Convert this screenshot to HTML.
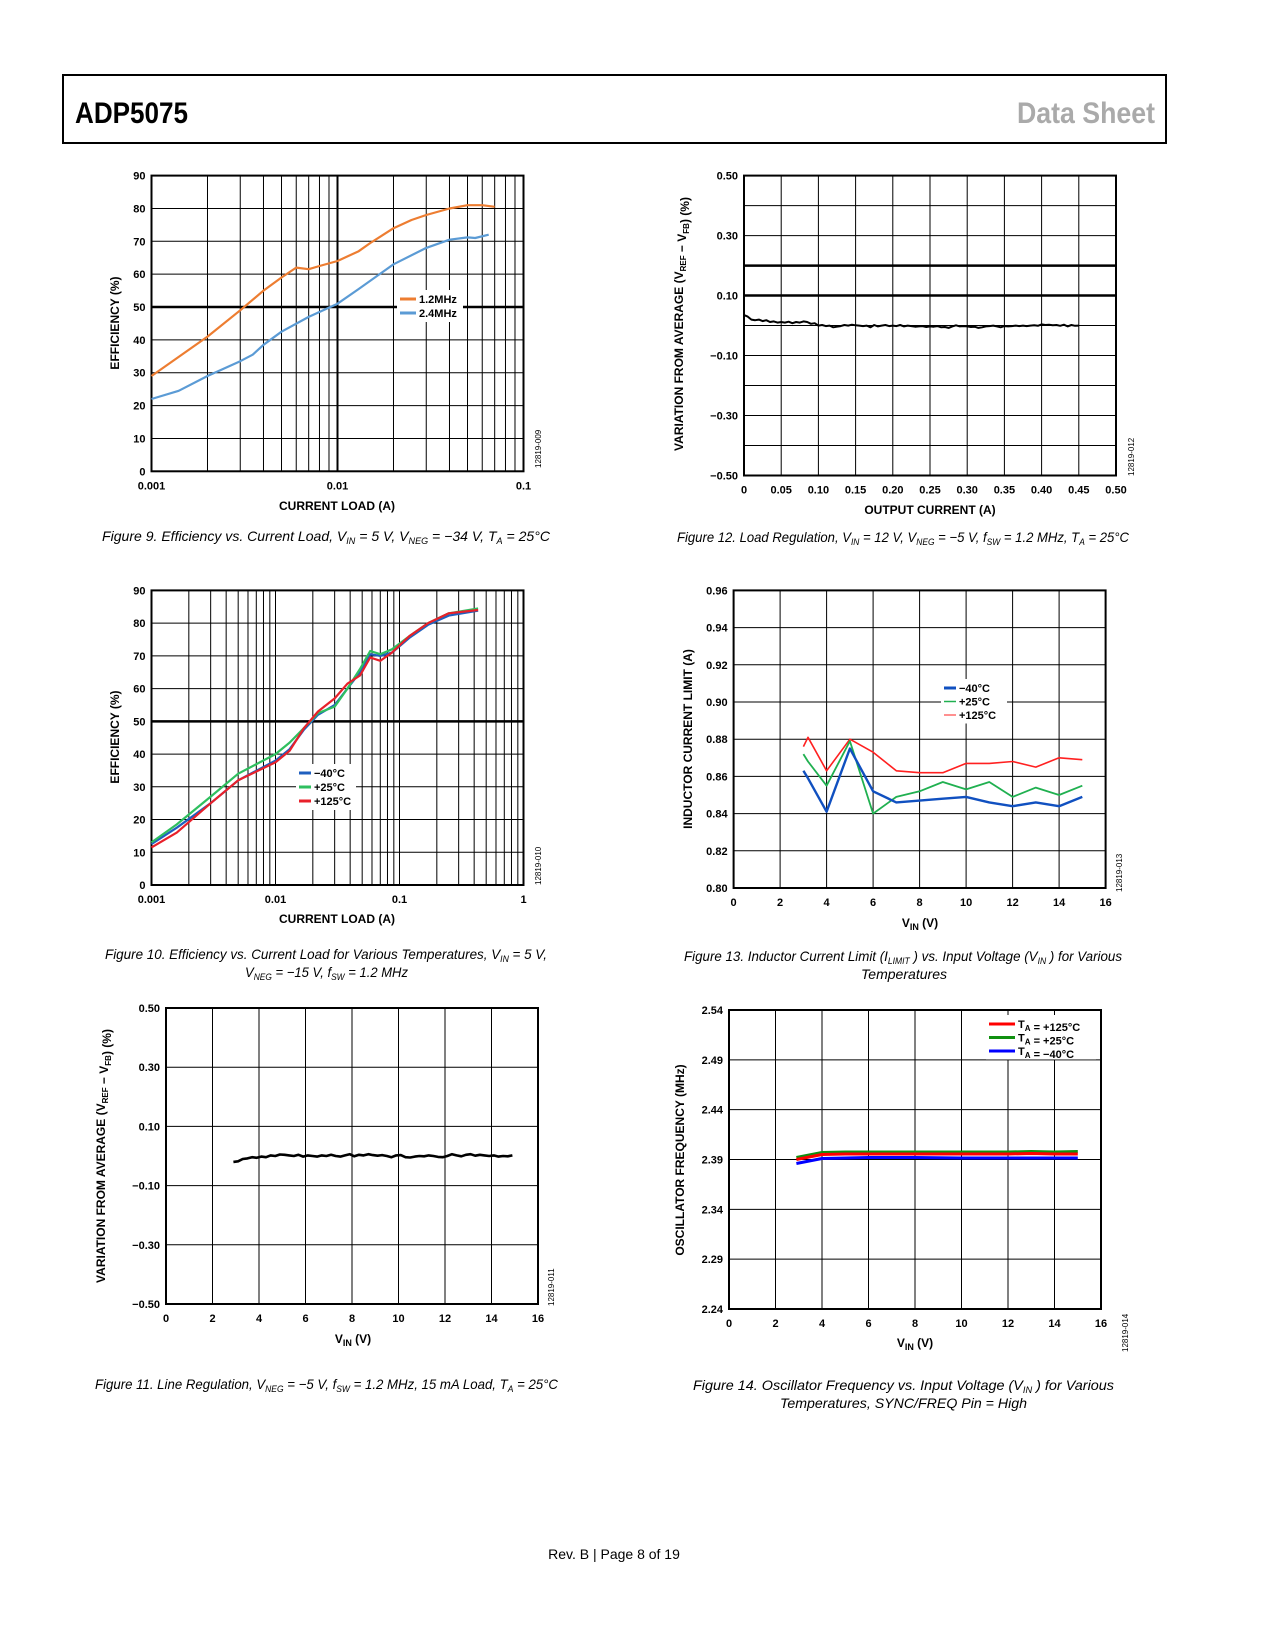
<!DOCTYPE html>
<html><head><meta charset="utf-8"><style>
html,body{margin:0;padding:0;background:#fff}
svg{display:block;font-family:"Liberation Sans",sans-serif}
.tk{font-size:11px;font-weight:bold}
.ax{font-size:12px;font-weight:bold}
.cap{font-size:14px;font-style:italic}
</style></head><body>
<svg id="pg" width="1275" height="1650" viewBox="0 0 1275 1650" xmlns="http://www.w3.org/2000/svg">
<rect x="63" y="75" width="1103" height="68" fill="none" stroke="#000" stroke-width="2"/>
<text x="75" y="123" font-size="30" font-weight="bold" textLength="113" lengthAdjust="spacingAndGlyphs">ADP5075</text>
<text x="1017" y="123" font-size="30" font-weight="bold" fill="#aaa" textLength="138" lengthAdjust="spacingAndGlyphs">Data Sheet</text>
<text x="614" y="1559" font-size="14" text-anchor="middle">Rev. B | Page 8 of 19</text>
</svg>
<script>
// ---- Figure 9 data
const f9X12=[0.001,0.002,0.003,0.004,0.005,0.006,0.007,0.008,0.01,0.013,0.015,0.02,0.025,0.03,0.04,0.05,0.06,0.07];
const f9Y12=[29,41,49,55,59,62,61.5,62.5,64,67,69.5,74,76.5,78,80,81,81,80.5];
const f9X24=[0.001,0.0014,0.002,0.003,0.0035,0.004,0.005,0.007,0.01,0.013,0.02,0.03,0.04,0.05,0.055,0.065];
const f9Y24=[22,24.5,29,33.5,35.5,38.5,42.5,47,51,55.5,63,68,70.5,71.2,71,72];
// ---- Figure 10 data
const f10X=[0.001,0.0016,0.003,0.005,0.01,0.013,0.017,0.022,0.03,0.038,0.048,0.058,0.07,0.087,0.12,0.17,0.25,0.43];
const f10Blue=[12.5,17.5,25,32,38,41.5,47.5,52,55,60,65,70.5,70,71,75.5,79.5,82.3,83.8];
const f10Green=[13,18.5,27,34,40,43.5,48,52.5,54.5,60,66,71.5,70.5,72,76,80,83,84.5];
const f10Red=[11.5,16,25,32,37.5,41,48,53,57,61.5,64,69.5,68.5,71,76,80,83,84];
// ---- Figure 12 data (x step 0.005 from 0 to 0.45)
const f12Y=[0.035,0.03,0.02,0.018,0.02,0.015,0.018,0.012,0.014,0.01,0.012,0.01,0.013,0.008,0.012,0.01,0.014,0.012,0.006,0.008,0.0,0.002,-0.002,0.0,-0.006,-0.004,-0.002,0.002,0.0,0.003,0.001,0.0,-0.002,0.0,-0.006,0.002,-0.003,0.0,0.002,-0.002,0.0,-0.002,0.002,-0.003,0.0,-0.002,-0.004,-0.003,-0.002,-0.005,-0.003,-0.004,-0.002,-0.006,-0.005,-0.008,-0.003,0.001,-0.003,-0.002,-0.003,-0.005,-0.004,-0.008,-0.006,-0.003,-0.002,0.0,-0.003,-0.006,-0.002,-0.003,-0.002,0.0,-0.002,0.0,-0.002,0.0,0.001,-0.001,0.004,0.002,0.003,0.001,0.002,-0.001,0.003,-0.003,0.002,-0.001,0.0];
// ---- Figure 11 data (x from 2.9 to 15, step 0.2)
const f11Y=[-0.02,-0.018,-0.01,-0.008,-0.004,-0.006,-0.002,-0.004,0.002,0.0,0.005,0.004,0.002,0.0,0.004,-0.002,0.002,0.0,-0.002,0.002,0.0,0.004,0.0,-0.002,0.002,0.006,-0.001,0.004,0.002,0.006,0.003,0.001,0.003,0.0,-0.004,0.002,0.003,-0.004,-0.005,-0.002,0.0,-0.001,0.002,0.0,-0.003,-0.004,0.0,0.006,0.002,-0.001,0.004,0.006,0.001,0.004,0.002,0.0,0.002,-0.002,0.0,-0.001,0.002];
// ---- Figure 13 data
const f13X=[3,3.2,4,5,6,7,8,9,10,11,12,13,14,15];
const f13Red=[0.876,0.881,0.863,0.880,0.873,0.863,0.862,0.862,0.867,0.867,0.868,0.865,0.870,0.869];
const f13Green=[0.872,0.868,0.855,0.879,0.840,0.849,0.852,0.857,0.853,0.857,0.849,0.854,0.850,0.855];
const f13Blue=[0.863,0.859,0.841,0.875,0.852,0.846,0.847,0.848,0.849,0.846,0.844,0.846,0.844,0.849];
// ---- Figure 14 data
const f14X=[2.9,4,5,6,8,10,12,13,14,15];
const f14Red=[2.390,2.3950,2.3955,2.3955,2.3955,2.3955,2.3955,2.396,2.3955,2.3955];
const f14Green=[2.392,2.3970,2.3975,2.3975,2.3975,2.3975,2.3975,2.398,2.3975,2.398];
const f14Blue=[2.386,2.3910,2.3915,2.392,2.392,2.3915,2.3915,2.3915,2.3915,2.3915];

const NS="http://www.w3.org/2000/svg";
const pg=document.getElementById('pg');
function mk(tag,attrs,parent,txt){const e=document.createElementNS(NS,tag);for(const k in attrs)e.setAttribute(k,attrs[k]);if(txt!==undefined)e.textContent=txt;(parent||pg).appendChild(e);return e;}

function chart(o){
  const g=mk('g',{},pg);
  
  
  const L=o.L,T=o.T,R=o.R,B=o.B;
  const xs=o.log?(v=>L+(Math.log10(v)-Math.log10(o.x0))/(Math.log10(o.x1)-Math.log10(o.x0))*(R-L)):(v=>L+(v-o.x0)/(o.x1-o.x0)*(R-L));
  const ys=v=>B-(v-o.y0)/(o.y1-o.y0)*(B-T);
  // vertical grid
  o.vgrid.forEach(v=>{const l=mk('line',{x1:xs(v),x2:xs(v),y1:T,y2:B,stroke:'#000','stroke-width':(o.vbold||[]).includes(v)?2:1},g);
    
    });
  o.hgrid.forEach(v=>{const l=mk('line',{x1:L,x2:R,y1:ys(v),y2:ys(v),stroke:'#000','stroke-width':(o.hbold||[]).some(b=>Math.abs(b-v)<1e-9)?2.5:1},g);
    
    });
  const fr=mk('rect',{x:L,y:T,width:R-L,height:B-T,fill:'none',stroke:'#000','stroke-width':2},g);
  
  
  o.xt.forEach((v,i)=>{const t=mk('text',{x:xs(v),y:B+18,'text-anchor':'middle',class:'tk'},g,o.xtl[i]);
    
    });
  o.yt.forEach((v,i)=>{const t=mk('text',{x:L-6,y:ys(v)+4,'text-anchor':'end',class:'tk'},g,o.ytl[i]);
    
    });
  o.series.forEach(s=>{
    const pts=s.x.map((x,i)=>xs(x).toFixed(1)+','+ys(s.y[i]).toFixed(1)).join(' ');
    const p=mk('polyline',{points:pts,fill:'none',stroke:s.c,'stroke-width':s.w||2.2,'stroke-linejoin':'round'},g);
    
    
  });
  // axis titles
  const xt=mk('text',{x:o.xtx,y:o.xty,'text-anchor':'middle',class:'ax'},g);
  xt.innerHTML=o.xtitle;
  
  
  const yt=mk('text',{x:0,y:0,'text-anchor':'middle',class:'ax',transform:`translate(${o.ytx},${o.yty}) rotate(-90)`},g);
  yt.innerHTML=o.ytitle;
  
  
  const id=mk('text',{x:0,y:0,'font-size':8,transform:`translate(${o.idx},${o.idy}) rotate(-90)`},g,o.id);
  
  
  if(o.legend){
    const lg=mk('g',{},g);
    
    
    mk('rect',{x:o.legend.x-3,y:o.legend.y-9,width:o.legend.w,height:o.legend.dy*o.legend.items.length+4,fill:'#fff'},lg);
    o.legend.items.forEach((it,i)=>{const y=o.legend.y+i*o.legend.dy;
      const e=mk('line',{x1:o.legend.x,x2:o.legend.x+o.legend.sw,y1:y,y2:y,stroke:it[0],'stroke-width':it[2]||3},lg);
      
      
      const t=mk('text',{x:o.legend.x+o.legend.sw+3,y:y+4,class:'tk'},lg);
      t.innerHTML=it[1];
      
      });
  }
}
function logGrid(a,b){const r=[];for(let d=a;d<b;d*=10)for(let k=1;k<10;k++)r.push(+(d*k).toPrecision(3));r.push(b);return r;}
function rng(a,b,s){const r=[];for(let v=a;v<=b+1e-9;v+=s)r.push(+v.toFixed(4));return r;}
function cap(x,y,w,html,name){const t=mk('text',{x:x,y:y,class:'cap',textLength:w,lengthAdjust:'spacingAndGlyphs'});t.innerHTML=html;
  
  }
const sub=s=>`<tspan font-size="8" dy="3">${s}</tspan><tspan dy="-3"></tspan>`;
const isub=s=>`<tspan font-size="9" dy="3">${s}</tspan><tspan dy="-3"> </tspan>`;

chart({name:'figure-9-chart',L:151.5,T:175.6,R:523.5,B:471.3,log:true,x0:0.001,x1:0.1,y0:0,y1:90,
 vgrid:logGrid(0.001,0.1),vbold:[0.01],hgrid:rng(0,90,10),hbold:[50],
 xt:[0.001,0.01,0.1],xtl:['0.001','0.01','0.1'],yt:rng(0,90,10),ytl:rng(0,90,10).map(String),
 series:[{x:f9X12,y:f9Y12,c:'#ed7d31',n:'series-1.2mhz'},{x:f9X24,y:f9Y24,c:'#5b9bd5',n:'series-2.4mhz'}],
 xtitle:'CURRENT LOAD (A)',xtx:337,xty:510,ytitle:'EFFICIENCY (%)',ytx:119,yty:323,id:'12819-009',idx:541,idy:468,
 legend:{x:400,y:299,dy:14,w:66,sw:16,items:[['#ed7d31','1.2MHz'],['#5b9bd5','2.4MHz']]}});

chart({name:'figure-12-chart',L:744,T:175.6,R:1116,B:475.5,log:false,x0:0,x1:0.5,y0:-0.5,y1:0.5,
 vgrid:rng(0,0.5,0.05),hgrid:rng(-0.5,0.5,0.1),hbold:[0.2,0.1],
 xt:rng(0,0.5,0.05),xtl:['0','0.05','0.10','0.15','0.20','0.25','0.30','0.35','0.40','0.45','0.50'],
 yt:[-0.5,-0.3,-0.1,0.1,0.3,0.5],ytl:['\u22120.50','\u22120.30','\u22120.10','0.10','0.30','0.50'],
 series:[{x:f12Y.map((_,i)=>i*0.005),y:f12Y,c:'#000',n:'load-regulation-trace',w:2}],
 xtitle:'OUTPUT CURRENT (A)',xtx:930,xty:514,ytitle:'VARIATION FROM AVERAGE (V'+sub('REF')+' \u2212 V'+sub('FB')+') (%)',ytx:683,yty:324,id:'12819-012',idx:1134,idy:476});

chart({name:'figure-10-chart',L:151.5,T:590.4,R:523.5,B:885,log:true,x0:0.001,x1:1,y0:0,y1:90,
 vgrid:logGrid(0.001,1),vbold:[],hgrid:rng(0,90,10),hbold:[50],
 xt:[0.001,0.01,0.1,1],xtl:['0.001','0.01','0.1','1'],yt:rng(0,90,10),ytl:rng(0,90,10).map(String),
 series:[{x:f10X,y:f10Blue,c:'#1f5fbf',n:'series-minus40c'},{x:f10X,y:f10Green,c:'#2fbf5f',n:'series-plus25c'},{x:f10X,y:f10Red,c:'#e8202a',n:'series-plus125c'}],
 xtitle:'CURRENT LOAD (A)',xtx:337,xty:923,ytitle:'EFFICIENCY (%)',ytx:119,yty:737,id:'12819-010',idx:541,idy:885,
 legend:{x:299,y:773,dy:14,w:60,sw:12,items:[['#1f5fbf','\u221240°C'],['#2fbf5f','+25°C'],['#e8202a','+125°C']]}});

chart({name:'figure-13-chart',L:733.6,T:590.4,R:1105.6,B:888,log:false,x0:0,x1:16,y0:0.80,y1:0.96,
 vgrid:rng(0,16,2),hgrid:rng(0.80,0.96,0.02),
 xt:rng(0,16,2),xtl:rng(0,16,2).map(String),yt:rng(0.80,0.96,0.02),ytl:rng(0.80,0.96,0.02).map(v=>v.toFixed(2)),
 series:[{x:f13X,y:f13Red,c:'#ff2020',n:'series-plus125c',w:1.6},{x:f13X,y:f13Green,c:'#20b050',n:'series-plus25c',w:1.8},{x:f13X,y:f13Blue,c:'#1050c0',n:'series-minus40c',w:2.4}],
 xtitle:'V'+isub('IN')+'(V)',xtx:920,xty:927,ytitle:'INDUCTOR CURRENT LIMIT (A)',ytx:692,yty:739,id:'12819-013',idx:1122,idy:892,
 legend:{x:944,y:688,dy:13.5,w:66,sw:12,items:[['#1050c0','\u221240°C'],['#20b050','+25°C',1.5],['#ff2020','+125°C',1]]}});

chart({name:'figure-11-chart',L:166,T:1008,R:538,B:1304,log:false,x0:0,x1:16,y0:-0.5,y1:0.5,
 vgrid:rng(0,16,2),hgrid:rng(-0.5,0.5,0.2),
 xt:rng(0,16,2),xtl:rng(0,16,2).map(String),
 yt:[-0.5,-0.3,-0.1,0.1,0.3,0.5],ytl:['\u22120.50','\u22120.30','\u22120.10','0.10','0.30','0.50'],
 series:[{x:f11Y.map((_,i)=>2.9+i*0.2),y:f11Y,c:'#000',n:'line-regulation-trace',w:2.6}],
 xtitle:'V'+isub('IN')+'(V)',xtx:353,xty:1343,ytitle:'VARIATION FROM AVERAGE (V'+sub('REF')+' \u2212 V'+sub('FB')+') (%)',ytx:105,yty:1156,id:'12819-011',idx:554,idy:1306});

chart({name:'figure-14-chart',L:729,T:1010,R:1101,B:1309,log:false,x0:0,x1:16,y0:2.24,y1:2.54,
 vgrid:rng(0,16,2),hgrid:rng(2.24,2.54,0.05),
 xt:rng(0,16,2),xtl:rng(0,16,2).map(String),yt:rng(2.24,2.54,0.05),ytl:rng(2.24,2.54,0.05).map(v=>v.toFixed(2)),
 series:[{x:f14X,y:f14Green,c:'#109010',n:'series-plus25c',w:3},{x:f14X,y:f14Red,c:'#ff0000',n:'series-plus125c',w:3},{x:f14X,y:f14Blue,c:'#0000ff',n:'series-minus40c',w:3}],
 xtitle:'V'+isub('IN')+'(V)',xtx:915,xty:1347,ytitle:'OSCILLATOR FREQUENCY (MHz)',ytx:684,yty:1160,id:'12819-014',idx:1128,idy:1352,
 legend:{x:989,y:1024,dy:13.5,w:110,sw:26,items:[['#ff0000','T'+sub('A')+' = +125°C'],['#109010','T'+sub('A')+' = +25°C'],['#0000ff','T'+sub('A')+' = \u221240°C']]}});

cap(102,541,448,'Figure 9. Efficiency vs. Current Load, V'+isub('IN')+'= 5 V, V'+isub('NEG')+'= \u221234 V, T'+isub('A')+'= 25°C','caption-figure-9');
cap(677,542,452,'Figure 12. Load Regulation, V'+isub('IN')+'= 12 V, V'+isub('NEG')+'= \u22125 V, f'+isub('SW')+'= 1.2 MHz, T'+isub('A')+'= 25°C','caption-figure-12');
cap(105,959,442,'Figure 10. Efficiency vs. Current Load for Various Temperatures, V'+isub('IN')+'= 5 V,','caption-figure-10-line1');
cap(245,977,163,'V'+isub('NEG')+'= \u221215 V, f'+isub('SW')+'= 1.2 MHz','caption-figure-10-line2');
cap(684,961,438,'Figure 13. Inductor Current Limit (I'+isub('LIMIT')+') vs. Input Voltage (V'+isub('IN')+') for Various','caption-figure-13-line1');
cap(861,979,86,'Temperatures','caption-figure-13-line2');
cap(95,1389,463,'Figure 11. Line Regulation, V'+isub('NEG')+'= \u22125 V, f'+isub('SW')+'= 1.2 MHz, 15 mA Load, T'+isub('A')+'= 25°C','caption-figure-11');
cap(693,1390,421,'Figure 14. Oscillator Frequency vs. Input Voltage (V'+isub('IN')+') for Various','caption-figure-14-line1');
cap(780,1408,247,'Temperatures, SYNC/FREQ Pin = High','caption-figure-14-line2');
</script>
</body></html>
